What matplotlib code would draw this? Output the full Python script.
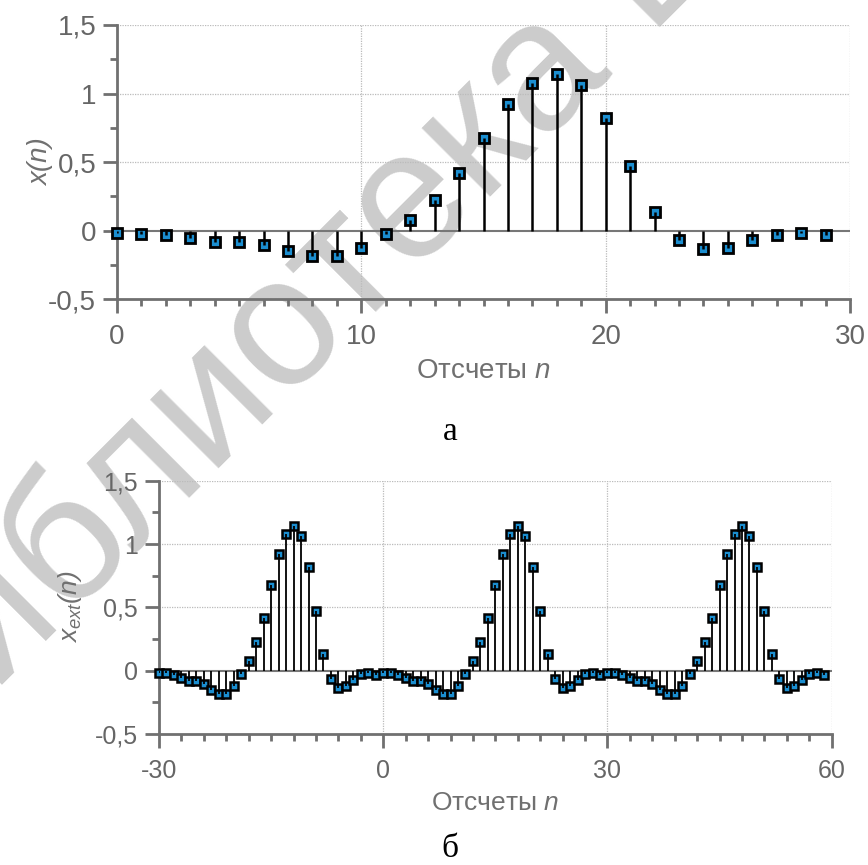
import numpy as np
import matplotlib
matplotlib.use("Agg")
import matplotlib.pyplot as plt
from matplotlib.ticker import MultipleLocator

plt.rcParams["font.family"] = ["Liberation Sans", "DejaVu Sans"]
plt.rcParams["mathtext.fontset"] = "custom"
plt.rcParams["mathtext.rm"] = "Liberation Sans:italic"
plt.rcParams["mathtext.it"] = "Liberation Sans:italic"

# signal x(n), n = 0..29
n = np.arange(0, 30)
x = [-0.015, -0.022, -0.036, -0.058, -0.085, -0.085, -0.105, -0.153, -0.185, -0.185,
     -0.124, -0.029, 0.080, 0.226, 0.418, 0.676, 0.92, 1.08, 1.141, 1.063,
     0.82, 0.47, 0.134, -0.066, -0.134, -0.124, -0.07, -0.03, -0.02, -0.036]

# periodic extension x_ext(n), n = -30..59
n_ext = np.arange(-30, 60)
x_ext = np.tile(x, 3)

y_ticks = [-0.5, 0, 0.5, 1, 1.5]
y_labels = ["-0,5", "0", "0,5", "1", "1,5"]

gray = "#707070"
blue = "#1b8ed0"

fig = plt.figure(figsize=(8.68, 8.65), dpi=100)

# watermark
fig.text(-0.105, 0.1, "Библиотека БГУИР", rotation=45, rotation_mode="anchor",
         ha="left", va="baseline", fontsize=132, color="#cccccc", zorder=-1)


def setup(ax, xticks, xminor, tick_size, grid_x):
    ax.set_facecolor("none")
    ax.set_xlim(xticks[0], xticks[-1])
    ax.set_ylim(-0.5, 1.5)
    for s in ["top", "right"]:
        ax.spines[s].set_visible(False)
    for s in ["left", "bottom"]:
        ax.spines[s].set_color(gray)
        ax.spines[s].set_linewidth(2)
    ax.set_xticks(xticks)
    ax.set_xticklabels([str(t) for t in xticks])
    ax.xaxis.set_minor_locator(MultipleLocator(xminor))
    ax.set_yticks(y_ticks)
    ax.set_yticklabels(y_labels)
    ax.yaxis.set_minor_locator(MultipleLocator(0.25))
    ax.tick_params(which="major", length=10, width=2, color=gray, labelcolor="#666666",
                   labelsize=tick_size)
    ax.tick_params(which="minor", length=5, width=2, color=gray)
    ax.tick_params(axis="x", pad=8)
    ax.tick_params(axis="y", pad=5)
    for gx in grid_x:
        ax.axvline(gx, color="#bbbbbb", lw=0.9, ls=(0, (1, 1)), zorder=1)
    for gy in [0.5, 1, 1.5]:
        ax.axhline(gy, color="#bbbbbb", lw=0.9, ls=(0, (1, 1)), zorder=1)
    ax.axhline(0, color="#777777", lw=1.5, zorder=2)


# top chart
ax1 = fig.add_axes([0.1348, 0.6543, 0.8445, 0.3168])
setup(ax1, [0, 10, 20, 30], 1, 20, [10, 20, 30])
ax1.plot(n, x, "s", ms=7.2, mfc=blue, mec="black", mew=2, zorder=3, clip_on=False)
ax1.vlines(n, 0, x, color="black", lw=1.8, zorder=4)
ax1.set_xlabel("Отсчеты $n$", fontsize=20, color=gray, labelpad=6)
ax1.set_ylabel("x(n)", fontsize=20, color=gray, style="italic", labelpad=-4)

# bottom chart
ax2 = fig.add_axes([0.1832, 0.1514, 0.775, 0.2929])
setup(ax2, [-30, 0, 30, 60], 3, 18, [0, 30, 60])
ax2.plot(n_ext, x_ext, "s", ms=6.3, mfc=blue, mec="black", mew=1.8, zorder=3, clip_on=False)
ax2.vlines(n_ext, 0, x_ext, color="black", lw=1.3, zorder=4)
ax2.set_xlabel("Отсчеты $n$", fontsize=19, color=gray, labelpad=6)
ax2.set_ylabel("$x_{ext}(n)$", fontsize=19, color=gray, labelpad=8)

fig.text(0.5184, 0.5006, "а", family="Liberation Serif", fontsize=24, ha="center", va="center")
fig.text(0.5184, 0.019, "б", family="Liberation Serif", fontsize=24, ha="center", va="center")

fig.savefig("out.png", dpi=100)
